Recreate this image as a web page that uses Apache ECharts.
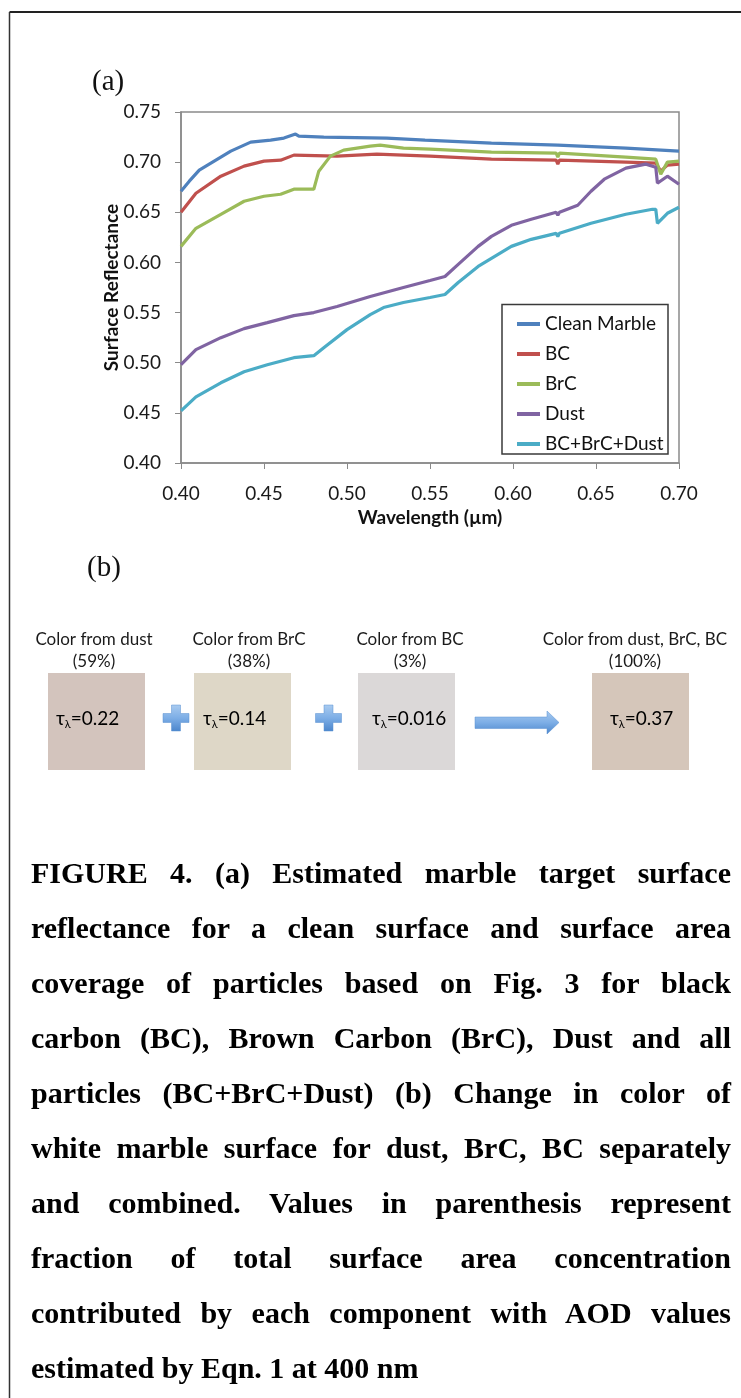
<!DOCTYPE html>
<html>
<head>
<meta charset="utf-8">
<title>Figure 4</title>
<script src="https://cdn.jsdelivr.net/npm/echarts@6/dist/echarts.min.js"></script>
<style>
  html, body { margin: 0; padding: 0; background: #fff; }
  #main { position: absolute; left: 0; top: 0; width: 741px; height: 1398px; }
  #caption {
    position: absolute; left: 31px; top: 845px; width: 700px;
    font-family: 'Liberation Serif', 'Times New Roman', serif;
    font-weight: bold; font-size: 30px; line-height: 55px; color: #000;
  }
  #caption div { text-align: justify; text-align-last: justify; }
  #caption div.last { text-align-last: left; }
</style>
</head>
<body>
<div id="main"></div>
<div id="caption"></div>
<script>
// (a) surface reflectance, [wavelength µm, reflectance]
const cleanMarble = [[0.400, 0.671], [0.405, 0.681], [0.411, 0.692], [0.420, 0.701], [0.430, 0.711],
  [0.442, 0.720], [0.454, 0.722], [0.462, 0.724], [0.469, 0.728], [0.471, 0.726], [0.486, 0.725],
  [0.524, 0.724], [0.547, 0.722], [0.587, 0.719], [0.627, 0.717], [0.668, 0.714], [0.700, 0.711]]
const bc = [[0.400, 0.650], [0.409, 0.669], [0.424, 0.686], [0.438, 0.696], [0.450, 0.701],
  [0.460, 0.702], [0.468, 0.707], [0.494, 0.706], [0.518, 0.708], [0.550, 0.706], [0.587, 0.703],
  [0.626, 0.702], [0.627, 0.698], [0.628, 0.702], [0.668, 0.700], [0.686, 0.699], [0.689, 0.691],
  [0.693, 0.697], [0.700, 0.698]]
const brc = [[0.400, 0.616], [0.409, 0.634], [0.424, 0.648], [0.438, 0.661], [0.450, 0.666],
  [0.460, 0.668], [0.468, 0.673], [0.480, 0.673], [0.483, 0.691], [0.490, 0.706], [0.498, 0.712],
  [0.514, 0.716], [0.520, 0.717], [0.534, 0.714], [0.550, 0.713], [0.587, 0.710], [0.626, 0.709],
  [0.627, 0.705], [0.628, 0.709], [0.668, 0.705], [0.686, 0.703], [0.689, 0.688], [0.693, 0.700],
  [0.700, 0.701]]
const dust = [[0.400, 0.498], [0.409, 0.513], [0.424, 0.525], [0.438, 0.534], [0.452, 0.540],
  [0.468, 0.547], [0.480, 0.550], [0.494, 0.556], [0.514, 0.566], [0.534, 0.575], [0.550, 0.582],
  [0.559, 0.586], [0.567, 0.598], [0.579, 0.616], [0.587, 0.626], [0.599, 0.637], [0.611, 0.643],
  [0.626, 0.650], [0.627, 0.647], [0.628, 0.650], [0.639, 0.657], [0.647, 0.671], [0.655, 0.683],
  [0.668, 0.694], [0.680, 0.698], [0.686, 0.695], [0.687, 0.679], [0.693, 0.686], [0.700, 0.678]]
const allParticles = [[0.400, 0.452], [0.409, 0.466], [0.424, 0.480], [0.438, 0.491], [0.452, 0.498],
  [0.468, 0.505], [0.480, 0.507], [0.486, 0.515], [0.500, 0.533], [0.514, 0.548], [0.522, 0.555],
  [0.534, 0.560], [0.550, 0.565], [0.559, 0.568], [0.567, 0.580], [0.579, 0.596], [0.587, 0.604],
  [0.599, 0.616], [0.611, 0.623], [0.626, 0.629], [0.627, 0.626], [0.628, 0.629], [0.647, 0.639],
  [0.668, 0.648], [0.684, 0.653], [0.686, 0.653], [0.687, 0.639], [0.693, 0.649], [0.700, 0.655]]
const seriesNames = ['Clean Marble', 'BC', 'BrC', 'Dust', 'BC+BrC+Dust']
const seriesColors = ['#4F81BD', '#C0504D', '#9BBB59', '#8064A2', '#4BACC6']

// (b) colour swatches
const swatchTitles = ['Color from dust', 'Color from BrC', 'Color from BC', 'Color from dust, BrC, BC']
const swatchShares = ['(59%)', '(38%)', '(3%)', '(100%)']
const swatchTau = ['0.22', '0.14', '0.016', '0.37']
const swatchFills = ['#D3C4BD', '#DED7C7', '#DBD8D8', '#D5C6BA']

const captionLines = [
  'FIGURE 4. (a) Estimated marble target surface',
  'reflectance for a clean surface and surface area',
  'coverage of particles based on Fig. 3 for black',
  'carbon (BC), Brown Carbon (BrC), Dust and all',
  'particles (BC+BrC+Dust) (b) Change in color of',
  'white marble surface for dust, BrC, BC separately',
  'and combined. Values in parenthesis represent',
  'fraction of total surface area concentration',
  'contributed by each component with AOD values',
  'estimated by Eqn. 1 at 400 nm'
]

const font = 'Lato, "Open Sans", sans-serif'
const serif = '"Liberation Serif", "Times New Roman", serif'

// caption as real justified text
let cap = document.getElementById('caption')
captionLines.forEach((t, i) => {
  let d = document.createElement('div')
  d.textContent = t
  if (i === captionLines.length - 1) d.className = 'last'
  cap.appendChild(d)
})

let myChart = echarts.init(document.getElementById('main'), null, { renderer: 'canvas' })

// panel (b) layout
const boxX = [48, 194, 358, 592]
const titleCx = [94, 249, 410, 635]
const tauX = [56, 203, 372, 610]
const boxY = 673
const boxSize = 97

function cross (cx, cy) {
  let h = 13, a = 4.5
  return [[cx - a, cy - h], [cx + a, cy - h], [cx + a, cy - a], [cx + h, cy - a], [cx + h, cy + a],
    [cx + a, cy + a], [cx + a, cy + h], [cx - a, cy + h], [cx - a, cy + a], [cx - h, cy + a],
    [cx - h, cy - a], [cx - a, cy - a]]
}
const blueGrad = () => new echarts.graphic.LinearGradient(0, 0, 0, 1, [
  { offset: 0, color: '#A9CBF0' }, { offset: 0.5, color: '#7DAEE6' }, { offset: 1, color: '#4C86CC' }])

let graphics = [
  // page frame
  { type: 'line', shape: { x1: 9.5, y1: 12, x2: 741, y2: 12 }, style: { stroke: '#222', lineWidth: 2 } },
  { type: 'line', shape: { x1: 9.5, y1: 12, x2: 9.5, y2: 1398 }, style: { stroke: '#333', lineWidth: 1.5 } },
  { type: 'text', x: 92, y: 82, style: { text: '(a)', font: '29px ' + serif, fill: '#111', verticalAlign: 'middle' } },
  { type: 'text', x: 87, y: 568, style: { text: '(b)', font: '29px ' + serif, fill: '#111', verticalAlign: 'middle' } },
  // legend frame
  { type: 'rect', z: 10, shape: { x: 502, y: 304.5, width: 166, height: 149.5 }, style: { fill: 'transparent', stroke: '#3a3a3a', lineWidth: 1.5 } },
  { type: 'polygon', shape: { points: cross(176, 718) }, style: { fill: blueGrad(), stroke: '#5A90D0', lineWidth: 0.5 } },
  { type: 'polygon', shape: { points: cross(328.5, 718) }, style: { fill: blueGrad(), stroke: '#5A90D0', lineWidth: 0.5 } },
  { type: 'polygon', shape: { points: [[475, 717], [547, 717], [547, 711], [559, 722.5], [547, 734], [547, 728.5], [475, 728.5]] }, style: { fill: blueGrad(), stroke: '#5A90D0', lineWidth: 0.5 } }
]
swatchTitles.forEach((t, i) => {
  graphics.push({ type: 'rect', shape: { x: boxX[i], y: boxY, width: boxSize, height: boxSize }, style: { fill: swatchFills[i] } })
  graphics.push({ type: 'text', x: titleCx[i], y: 640, style: { text: t, font: '17px ' + font, fill: '#1a1a1a', align: 'center', verticalAlign: 'middle' } })
  graphics.push({ type: 'text', x: titleCx[i], y: 662, style: { text: swatchShares[i], font: '17px ' + font, fill: '#1a1a1a', align: 'center', verticalAlign: 'middle' } })
  graphics.push({
    type: 'text', x: tauX[i], y: 719,
    style: {
      text: '{t|τ}{s|λ}{t|=' + swatchTau[i] + '}',
      verticalAlign: 'middle',
      rich: {
        t: { fontSize: 19, fontFamily: font, color: '#1a1a1a', lineHeight: 22 },
        s: { fontSize: 11, fontFamily: font, color: '#1a1a1a', lineHeight: 22, verticalAlign: 'bottom' }
      }
    }
  })
})

let seriesData = [cleanMarble, bc, brc, dust, allParticles]

myChart.setOption({
  animation: false,
  color: seriesColors,
  grid: {
    left: 181, top: 112, width: 498, height: 351,
    show: true, borderColor: '#8a8a8a', borderWidth: 1.5
  },
  legend: {
    orient: 'vertical', left: 512, top: 309,
    icon: 'rect', itemWidth: 23, itemHeight: 4, itemGap: 10,
    textStyle: { fontFamily: font, fontSize: 19, color: '#111', lineHeight: 20 },
    data: seriesNames
  },
  xAxis: {
    type: 'value', min: 0.4, max: 0.7, interval: 0.05,
    name: 'Wavelength (µm)', nameLocation: 'middle', nameGap: 45, nameMoveOverlap: false,
    nameTextStyle: { fontFamily: font, fontSize: 19, fontWeight: 'bold', color: '#111' },
    axisLine: { lineStyle: { color: '#8a8a8a', width: 1.5 } },
    axisTick: { show: true, length: 6, lineStyle: { color: '#8a8a8a' } },
    axisLabel: { fontFamily: font, fontSize: 19, color: '#1a1a1a', margin: 21, formatter: v => v.toFixed(2) },
    splitLine: { show: false }
  },
  yAxis: {
    type: 'value', min: 0.4, max: 0.75, interval: 0.05,
    name: 'Surface Reflectance', nameLocation: 'middle', nameGap: 60, nameRotate: 90, nameMoveOverlap: false,
    nameTextStyle: { fontFamily: font, fontSize: 19, fontWeight: 'bold', color: '#111' },
    axisLine: { show: true, lineStyle: { color: '#8a8a8a', width: 1.5 } },
    axisTick: { show: true, length: 6, lineStyle: { color: '#8a8a8a' } },
    axisLabel: { fontFamily: font, fontSize: 19, color: '#1a1a1a', margin: 20, formatter: v => v.toFixed(2) },
    splitLine: { show: false }
  },
  series: seriesNames.map((n, i) => ({
    name: n,
    type: 'line',
    data: seriesData[i],
    showSymbol: false,
    symbol: 'none',
    lineStyle: { width: 3.2, color: seriesColors[i] },
    emphasis: { disabled: true }
  })),
  graphic: graphics
})
</script>
</body>
</html>
